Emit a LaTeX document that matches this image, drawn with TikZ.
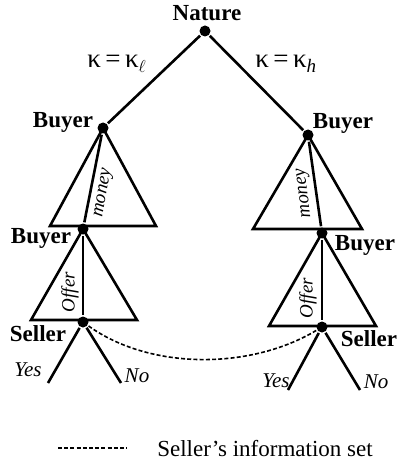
\documentclass[tikz,border=0pt]{standalone}
\usepackage{fontspec}
\setmainfont{Liberation Serif}
\newcommand{\kapsub}[1]{\raisebox{-5pt}{\fontsize{19}{21}\selectfont #1}}
\begin{document}
\begin{tikzpicture}[x=1pt,y=-1pt,line width=2.6pt,
  dot/.style={circle,fill=black,inner sep=0pt,minimum size=11pt},
  plab/.style={font=\fontsize{23}{26}\selectfont\bfseries,inner sep=0pt,anchor=base},
  act/.style={font=\fontsize{19}{22}\selectfont\itshape,inner sep=0pt},
  yn/.style={font=\fontsize{21}{24}\selectfont\itshape,inner sep=0pt,anchor=base},
  klab/.style={font=\fontsize{27}{30}\selectfont,inner sep=0pt,anchor=base west},
  infoset/.style={line width=1.6pt,dash pattern=on 4pt off 2.2pt}]
\useasboundingbox (0,0) rectangle (399,465);
% decision nodes
\node[dot] (n) at (205,31) {};
\node[dot] (b1) at (103,128) {};
\node[dot] (b2) at (308,135) {};
\node[dot] (b3) at (83,229) {};
\node[dot] (b4) at (322,233) {};
\node[dot] (s1) at (83,322) {};
\node[dot] (s2) at (322,327) {};
% triangle corners and leaves
\coordinate (l1a) at (50,226);
\coordinate (l1b) at (156,226);
\coordinate (l2a) at (31,320);
\coordinate (l2b) at (137,320);
\coordinate (r1a) at (253,229);
\coordinate (r1b) at (362,229);
\coordinate (r2a) at (269,326);
\coordinate (r2b) at (376,326);
\coordinate (y1) at (48,383);
\coordinate (n1) at (121,383);
\coordinate (y2) at (288,390);
\coordinate (n2) at (360,390);
\coordinate (lg1) at (58,448);
\coordinate (lg2) at (127,448);
% edges
\draw (n) -- (b1);
\draw (n) -- (b2);
\draw[line join=miter] (b1.center) -- (l1a) -- (l1b) -- cycle;
\draw[line join=miter] (b3.center) -- (l2a) -- (l2b) -- cycle;
\draw[line join=miter] (b2.center) -- (r1a) -- (r1b) -- cycle;
\draw[line join=miter] (b4.center) -- (r2a) -- (r2b) -- cycle;
\draw (b1) -- (b3);
\draw (b2) -- (b4);
\draw (b3) -- (s1);
\draw (b4) -- (s2);
\draw (s1) -- (y1);
\draw (s1) -- (n1);
\draw (s2) -- (y2);
\draw (s2) -- (n2);
\draw[infoset] (s1) .. controls (150,370) and (250,370) .. (s2);
\draw[infoset] (lg1) -- (lg2);
% labels
\node[plab] (tn) at (207,21) {Nature};
\node[plab] (tb1) at (63,128) {Buyer};
\node[plab] (tb2) at (343,129) {Buyer};
\node[plab] (tb3) at (41,243) {Buyer};
\node[plab] (tb4) at (365,250) {Buyer};
\node[plab] (ts1) at (38,341) {Seller};
\node[plab] (ts2) at (369,346) {Seller};
\node[klab] (kl) at (86,68) {κ\,=\,κ\kapsub{$\ell$}};
\node[klab] (kh) at (254,68) {κ\,=\,κ\kapsub{\itshape h}};
\node[act,rotate=80] (m1) at (104,193) {money};
\node[act,rotate=97] (m2) at (305,193) {money};
\node[act,rotate=90] (o1) at (70,292) {Offer};
\node[act,rotate=90] (o2) at (308,298) {Offer};
\node[yn] (ty1) at (28,376) {Yes};
\node[yn] (tn1) at (137,382) {No};
\node[yn] (ty2) at (276,387) {Yes};
\node[yn] (tn2) at (376,388) {No};
\node[font=\fontsize{23}{26}\selectfont,inner sep=0pt,anchor=base] (leg) at (265,456) {Seller’s information set};
\end{tikzpicture}
\end{document}
